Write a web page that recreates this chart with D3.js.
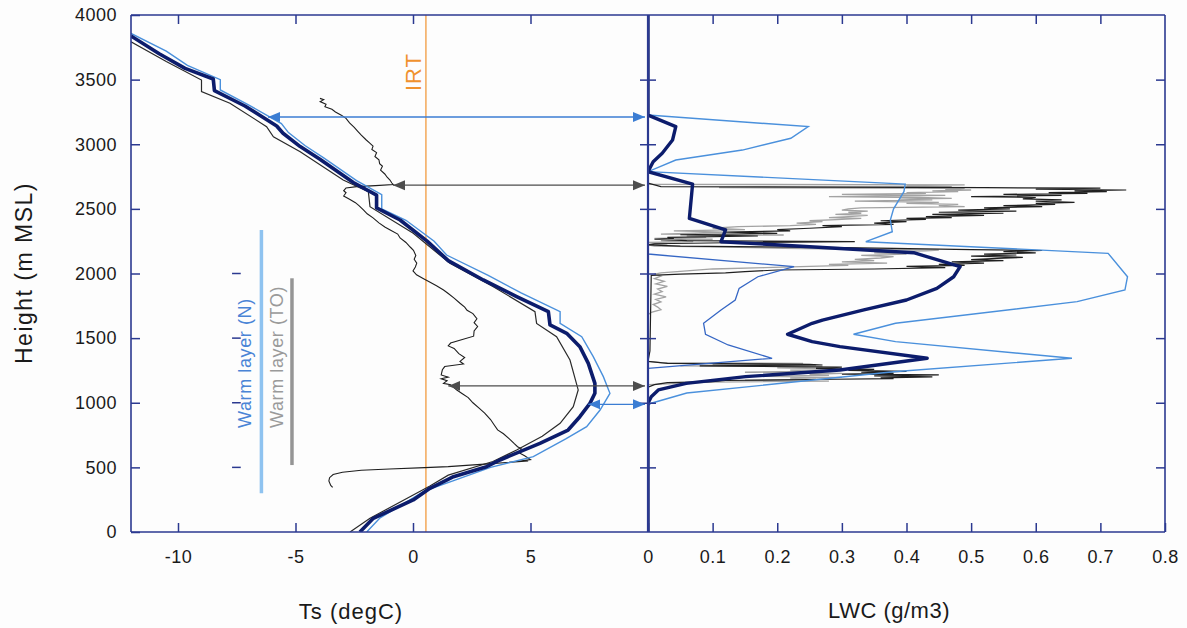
<!DOCTYPE html>
<html><head><meta charset="utf-8">
<script src="https://cdn.jsdelivr.net/npm/d3@7"></script>
<style>
body{margin:0;background:#fdfdfd}
svg{display:block}
text{font-family:"Liberation Sans",Arial,sans-serif}
</style>
</head><body><svg id="c" width="1187" height="628"></svg>
<script>
// ---------- DATA ----------
const heightTicks = [0,500,1000,1500,2000,2500,3000,3500,4000];
const innerHeightTicks = [500,1000,1500,2000,2500,3000,3500];
const tsTicks = [-10,-5,0,5];
const tsTickLabels = ["-10","-5","0","5"];
const lwcTicks = [0,0.1,0.2,0.3,0.4,0.5,0.6,0.7,0.8];
const lwcTickLabels = ["0","0.1","0.2","0.3","0.4","0.5","0.6","0.7","0.8"];
const warmDashHeights = [500,1000,1500,2000];

// Ts profiles [Ts degC, height m]
const tsModelNavy = [[-12,3838],[-10.8,3700],[-9.7,3587],[-8.5,3505],[-8.45,3415],[-7.15,3296],[-5.8,3141],[-5.53,3085],[-4.8,2982],[-3.96,2884],[-2.54,2704],[-1.55,2607],[-1.55,2507],[-0.55,2414],[0.6,2250],[1.5,2100],[2.99,1950],[4.41,1821],[5.76,1705],[5.83,1602],[6.54,1537],[7.1,1434],[7.46,1305],[7.74,1150],[7.74,1073],[7.53,995],[7.1,892],[6.6,789],[5.4,686],[3.7,557],[3.13,505],[1.72,428],[1.43,402],[0.72,338],[0.01,248],[-1.69,106],[-2.26,0]];
const tsModelLight = [[-12,3858],[-10.5,3720],[-9.6,3610],[-8.2,3500],[-8.2,3420],[-7.0,3305],[-5.6,3160],[-5.3,3090],[-4.6,2990],[-3.8,2895],[-2.4,2718],[-1.33,2610],[-1.33,2500],[-0.3,2412],[0.9,2250],[1.43,2143],[3.2,1985],[4.6,1850],[6.26,1705],[6.26,1614],[7.18,1511],[7.67,1357],[8.1,1202],[8.38,1073],[7.96,944],[7.39,815],[6.5,720],[5.12,583],[3.3,500],[1.7,395],[0.5,318],[-1.4,110],[-1.97,0]];
const tsModelBlack = [[-12,3793],[-10.5,3640],[-9,3497],[-9,3407],[-7.79,3317],[-6.23,3136],[-5.94,3058],[-4.8,2942],[-2.97,2723],[-1.9,2633],[-1.83,2517],[0.01,2311],[1.57,2079],[3.4,1900],[5.19,1705],[5.26,1614],[6.11,1511],[6.68,1331],[7.03,1099],[6.82,970],[6.26,841],[5.5,740],[4.41,634],[3.4,545],[1.5,440],[0.72,356],[-1.83,106],[-2.68,0]];
const tsSounding = [[-3.96,3355],[-3.8,3345],[-3.95,3330],[-3.7,3310],[-3.75,3290],[-3.45,3270],[-3.3,3250],[-3.05,3225],[-2.85,3200],[-2.7,3165],[-2.5,3130],[-2.35,3100],[-2.2,3070],[-2.0,3035],[-1.85,3010],[-1.7,2985],[-1.75,2960],[-1.55,2935],[-1.62,2905],[-1.45,2880],[-1.42,2850],[-1.3,2830],[-1.38,2800],[-1.2,2770],[-1.1,2745],[-0.98,2723],[-0.9,2700],[-0.84,2688],[-1.6,2680],[-2.4,2672],[-2.85,2662],[-2.95,2640],[-2.85,2625],[-2.95,2600],[-2.7,2575],[-2.45,2548],[-2.3,2525],[-2.1,2490],[-1.95,2462],[-1.7,2430],[-1.45,2392],[-1.2,2360],[-0.95,2335],[-0.65,2305],[-0.55,2275],[-0.3,2240],[-0.12,2205],[0.02,2180],[0.12,2140],[0.05,2110],[0.16,2080],[0.1,2050],[0.0,2020],[0.15,1990],[0.45,1960],[0.65,1940],[1.0,1905],[1.3,1872],[1.5,1845],[1.75,1810],[2.0,1770],[2.2,1740],[2.3,1715],[2.55,1690],[2.72,1650],[2.6,1620],[2.75,1590],[2.6,1555],[2.58,1515],[2.1,1490],[1.6,1462],[1.5,1440],[1.75,1420],[1.95,1380],[2.2,1350],[2.0,1320],[2.15,1300],[1.35,1280],[1.25,1255],[1.2,1215],[1.5,1198],[1.2,1185],[1.45,1170],[1.3,1150],[1.6,1140],[1.85,1100],[2.1,1070],[2.35,1040],[2.55,1000],[2.8,960],[3.05,920],[3.3,870],[3.45,830],[3.6,790],[3.85,760],[4.1,720],[4.3,685],[4.45,660],[4.6,645],[4.55,610],[4.75,590],[5.0,560],[4.4,545],[4.9,550],[3.2,527],[1.5,506],[0.5,498],[-1.0,488],[-2.2,478],[-3.0,462],[-3.4,445],[-3.55,420],[-3.58,395],[-3.5,360],[-3.42,345]];
const irtTs = 0.55;

// LWC profiles [LWC g/m3, height m]
const lwcModelNavy = [[0,4000],[0,3226],[0.043,3136],[0.038,3033],[0.022,2930],[0.008,2865],[0,2788],[0.069,2692],[0.064,2427],[0.12,2337],[0.113,2246],[0.411,2161],[0.483,2053],[0.473,1975],[0.447,1885],[0.40,1795],[0.334,1718],[0.27,1640],[0.254,1615],[0.216,1530],[0.254,1473],[0.297,1434],[0.432,1344],[0.297,1253],[0.151,1202],[0.059,1150],[0.016,1099],[0.005,1047],[0,996],[0,0]];
const lwcModelLight = [[0,3226],[0.248,3136],[0.221,3046],[0.146,2955],[0.043,2878],[0,2788],[0.398,2692],[0.396,2633],[0.38,2500],[0.375,2414],[0.378,2323],[0.337,2246],[0.712,2156],[0.742,1975],[0.738,1872],[0.664,1782],[0.383,1615],[0.318,1530],[0.383,1473],[0.656,1344],[0.38,1240],[0.06,1075],[0.005,996],[0,980]];
const lwcModelMid = [[0,2400],[0,2151],[0.226,2053],[0.17,1975],[0.141,1885],[0.135,1795],[0.113,1718],[0.086,1615],[0.089,1530],[0.124,1447],[0.192,1344],[0,1266],[0,1000]];
const lwcProbeBlack = [[0,2700],[0.02,2672],[0.52,2664],[0.70,2660],[0.60,2652],[0.74,2646],[0.66,2640],[0.71,2633],[0.62,2626],[0.68,2620],[0.55,2612],[0.64,2604],[0.50,2595],[0.60,2588],[0.58,2578],[0.64,2569],[0.60,2560],[0.66,2550],[0.60,2543],[0.63,2535],[0.55,2525],[0.61,2517],[0.52,2508],[0.56,2500],[0.48,2491],[0.57,2483],[0.45,2474],[0.55,2466],[0.44,2457],[0.52,2450],[0.43,2440],[0.47,2433],[0.40,2427],[0.43,2418],[0.36,2408],[0.40,2401],[0.35,2390],[0.38,2380],[0.27,2370],[0.30,2362],[0.25,2350],[0.20,2340],[0.22,2330],[0.12,2320],[0.20,2311],[0.05,2300],[0.17,2290],[0.03,2280],[0.04,2272],[0.01,2265],[0.06,2255],[0.32,2246],[0.15,2240],[0.01,2230],[0,2222],[0.05,2212],[0.30,2200],[0.38,2195],[0.50,2185],[0.61,2178],[0.55,2170],[0.60,2160],[0.52,2150],[0.57,2143],[0.50,2135],[0.58,2125],[0.54,2117],[0.50,2108],[0.55,2100],[0.47,2090],[0.52,2080],[0.45,2070],[0.49,2063],[0.40,2055],[0.46,2045],[0.35,2035],[0.20,2027],[0.15,2015],[0.12,2005],[0.05,1995],[0.005,1985],[0.003,1400],[0,1320],[0.03,1305],[0.25,1298],[0.27,1292],[0.08,1285],[0.30,1275],[0.26,1266],[0.35,1258],[0.31,1250],[0.40,1243],[0.33,1236],[0.38,1228],[0.30,1222],[0.45,1215],[0.35,1208],[0.44,1200],[0.36,1193],[0.38,1187],[0.25,1180],[0.12,1172],[0.10,1163],[0.03,1155],[0.01,1140],[0,1120],[0,0]];
const lwcProbeGray = [[0,3360],[0,2690],[0.49,2686],[0.40,2680],[0.47,2672],[0.11,2664],[0.49,2659],[0.46,2652],[0.50,2646],[0.44,2640],[0.48,2633],[0.40,2626],[0.43,2620],[0.30,2612],[0.46,2604],[0.28,2595],[0.42,2588],[0.47,2582],[0.39,2575],[0.44,2569],[0.32,2560],[0.45,2550],[0.40,2543],[0.48,2535],[0.45,2525],[0.49,2517],[0.33,2508],[0.31,2500],[0.30,2491],[0.34,2483],[0.31,2474],[0.33,2466],[0.29,2457],[0.34,2450],[0.31,2440],[0.28,2433],[0.33,2427],[0.30,2418],[0.25,2408],[0.27,2401],[0.23,2390],[0.26,2380],[0.22,2370],[0.14,2362],[0.10,2350],[0.15,2340],[0.04,2330],[0.12,2320],[0.06,2311],[0.02,2305],[0.21,2298],[0.06,2290],[0.09,2280],[0.01,2272],[0.10,2265],[0.02,2255],[0.07,2246],[0,2240],[0.03,2230],[0,2222],[0.01,2212],[0.12,2205],[0.21,2195],[0.30,2188],[0.45,2182],[0.43,2175],[0.38,2169],[0.35,2160],[0.40,2150],[0.33,2140],[0.38,2130],[0.36,2120],[0.32,2110],[0.35,2100],[0.30,2090],[0.37,2080],[0.28,2070],[0.31,2063],[0.25,2055],[0.18,2045],[0.10,2035],[0.06,2020],[0.02,2005],[0.01,1995],[0.02,1980],[0.01,1960],[0.025,1940],[0.012,1920],[0.03,1900],[0.015,1880],[0.022,1860],[0.01,1840],[0.028,1820],[0.012,1800],[0.02,1780],[0.008,1760],[0.015,1740],[0.02,1720],[0.005,1700],[0,1680],[0,1320],[0.02,1310],[0.24,1305],[0.10,1298],[0.26,1292],[0.05,1285],[0.27,1279],[0.20,1270],[0.29,1262],[0.22,1253],[0.27,1245],[0.15,1236],[0.30,1228],[0.25,1220],[0.28,1212],[0.18,1205],[0.30,1197],[0.22,1190],[0.26,1181],[0.15,1175],[0.28,1168],[0.10,1160],[0.05,1150],[0,1140]];

// arrows [height, Ts at left tip]
const arrowsBlue = [[3211,-6.17],[988,7.46]];
const arrowsGray = [[2683,-0.85],[1130,1.5]];
// warm layers [bottom, top] heights, and Ts position of bar
const warmLayerN = [300,2337];
const warmLayerTO = [518,1963];
const warmBarTs = [-6.45,-5.15];

// ---------- SCALES ----------
const svg = d3.select("#c");
const yS = d3.scaleLinear().domain([0,4000]).range([532,15]);
const xT = d3.scaleLinear().domain([-12,10]).range([131,648]);
const xL = d3.scaleLinear().domain([0,0.8]).range([648,1165]);
const AX = "#2b3990";

svg.append("rect").attr("width",1187).attr("height",628).attr("fill","#fdfdfd");

const defs = svg.append("defs");
defs.append("clipPath").attr("id","clipL").append("rect").attr("x",xT(-12)).attr("y",yS(4000)).attr("width",xT(10)-xT(-12)).attr("height",yS(0)-yS(4000));
defs.append("clipPath").attr("id","clipR").append("rect").attr("x",xL(0)).attr("y",yS(4000)).attr("width",xL(0.8)-xL(0)).attr("height",yS(0)-yS(4000));
function marker(id,color){
  defs.append("marker").attr("id",id).attr("viewBox","-12 -6 13 12").attr("refX",0).attr("refY",0)
    .attr("markerWidth",13).attr("markerHeight",12).attr("markerUnits","userSpaceOnUse")
    .attr("orient","auto-start-reverse")
    .append("path").attr("d","M0,0 L-12,-5 L-12,5 Z").attr("fill",color);
}
marker("mBlue","#3b7dd3");
marker("mGray","#4d4d4d");

const lineT = d3.line().x(d=>xT(d[0])).y(d=>yS(d[1]));
const lineL = d3.line().x(d=>xL(d[0])).y(d=>yS(d[1]));

// ---------- LEFT PANEL ----------
const gl = svg.append("g").attr("clip-path","url(#clipL)");
gl.append("line").attr("x1",xT(irtTs)).attr("x2",xT(irtTs)).attr("y1",yS(4000)).attr("y2",yS(0))
  .attr("stroke","#f0922e").attr("stroke-width",1.2);
gl.append("path").datum(tsSounding).attr("d",lineT).attr("fill","none").attr("stroke","#1e1e1e").attr("stroke-width",1.1);
gl.append("path").datum(tsModelBlack).attr("d",lineT).attr("fill","none").attr("stroke","#2a2a2a").attr("stroke-width",1.2);
gl.append("path").datum(tsModelLight).attr("d",lineT).attr("fill","none").attr("stroke","#4a90dc").attr("stroke-width",1.4);
gl.append("path").datum(tsModelNavy).attr("d",lineT).attr("fill","none").attr("stroke","#0c1c6c").attr("stroke-width",3.6).attr("stroke-linejoin","round");

// warm layer bars
svg.append("line").attr("x1",xT(warmBarTs[0])).attr("x2",xT(warmBarTs[0]))
  .attr("y1",yS(warmLayerN[0])).attr("y2",yS(warmLayerN[1])).attr("stroke","#8fc3f0").attr("stroke-width",3.5);
svg.append("line").attr("x1",xT(warmBarTs[1])).attr("x2",xT(warmBarTs[1]))
  .attr("y1",yS(warmLayerTO[0])).attr("y2",yS(warmLayerTO[1])).attr("stroke","#959595").attr("stroke-width",3.5);
svg.selectAll(".wdash").data(warmDashHeights).enter().append("line")
  .attr("x1",xT(-7.7)).attr("x2",xT(-7.33)).attr("y1",d=>yS(d)).attr("y2",d=>yS(d))
  .attr("stroke",AX).attr("stroke-width",1.5);

svg.append("text").attr("transform",`translate(${xT(warmBarTs[0])-10},428) rotate(-90)`)
  .attr("font-size",18).attr("letter-spacing",0.6).attr("fill","#4a84d6").text("Warm layer (N)");
svg.append("text").attr("transform",`translate(${xT(warmBarTs[1])-9},428) rotate(-90)`)
  .attr("font-size",18).attr("letter-spacing",0.6).attr("fill","#9a9a9a").text("Warm layer (TO)");
svg.append("text").attr("transform",`translate(${xT(irtTs)-5},91) rotate(-90)`)
  .attr("font-size",22).attr("letter-spacing",1).attr("fill","#f0922e").text("IRT");

// ---------- RIGHT PANEL ----------
const gr = svg.append("g").attr("clip-path","url(#clipR)");
gr.append("path").datum(lwcProbeGray).attr("d",lineL).attr("fill","none").attr("stroke","#a3a3a3").attr("stroke-width",1.3);
gr.append("path").datum(lwcProbeBlack).attr("d",lineL).attr("fill","none").attr("stroke","#202020").attr("stroke-width",1.2);
gr.append("path").datum(lwcModelMid).attr("d",lineL).attr("fill","none").attr("stroke","#3566c4").attr("stroke-width",1.3);
gr.append("path").datum(lwcModelLight).attr("d",lineL).attr("fill","none").attr("stroke","#4a90dc").attr("stroke-width",1.4);
gr.append("path").datum(lwcModelNavy).attr("d",lineL).attr("fill","none").attr("stroke","#0c1c6c").attr("stroke-width",3.4).attr("stroke-linejoin","round");

// ---------- AXES ----------
function styleAxis(g){
  g.select(".domain").remove();
  g.selectAll(".tick line").attr("stroke",AX).attr("stroke-width",1.5);
  g.selectAll("text").attr("fill","#1a1a1a").attr("font-size",18).attr("letter-spacing",0.5)
    .attr("font-family",'"Liberation Sans",Arial,sans-serif');
}
// frame lines
const frame = svg.append("g").attr("stroke",AX).attr("stroke-width",1.6).attr("fill","none");
frame.append("line").attr("x1",xT(-12)).attr("x2",xL(0.8)).attr("y1",yS(4000)).attr("y2",yS(4000));
frame.append("line").attr("x1",xT(-12)).attr("x2",xL(0.8)).attr("y1",yS(0)).attr("y2",yS(0));
frame.append("line").attr("x1",xT(-12)).attr("x2",xT(-12)).attr("y1",yS(4000)).attr("y2",yS(0));
frame.append("line").attr("x1",xL(0.8)).attr("x2",xL(0.8)).attr("y1",yS(4000)).attr("y2",yS(0));
frame.append("line").attr("x1",xL(0)).attr("x2",xL(0)).attr("y1",yS(4000)).attr("y2",yS(0)).attr("stroke-width",2.2);

// left y axis
svg.append("g").attr("transform",`translate(${xT(-12)},0)`)
  .call(d3.axisLeft(yS).tickValues(heightTicks).tickSize(-9).tickPadding(14).tickFormat(d3.format("d")))
  .call(styleAxis);
// right frame ticks
svg.append("g").attr("transform",`translate(${xL(0.8)},0)`)
  .call(d3.axisRight(yS).tickValues(innerHeightTicks).tickSize(-9).tickFormat(""))
  .call(styleAxis);
// middle crossing ticks
svg.append("g").attr("transform",`translate(${xL(0)},0)`)
  .call(d3.axisLeft(yS).tickValues(innerHeightTicks).tickSize(8).tickFormat("")).call(styleAxis);
svg.append("g").attr("transform",`translate(${xL(0)},0)`)
  .call(d3.axisRight(yS).tickValues(innerHeightTicks).tickSize(8).tickFormat("")).call(styleAxis);
// bottom axes
svg.append("g").attr("transform",`translate(0,${yS(0)})`)
  .call(d3.axisBottom(xT).tickValues(tsTicks).tickSize(-9).tickPadding(18).tickFormat((d,i)=>tsTickLabels[i]))
  .call(styleAxis);
svg.append("g").attr("transform",`translate(0,${yS(0)})`)
  .call(d3.axisBottom(xL).tickValues(lwcTicks).tickSize(-9).tickPadding(18).tickFormat((d,i)=>lwcTickLabels[i]))
  .call(styleAxis);
svg.selectAll(".tick").filter(d=>d===0).selectAll("line").filter(function(){return +d3.select(this).attr("y2")===-9;});
// top axes
svg.append("g").attr("transform",`translate(0,${yS(4000)})`)
  .call(d3.axisTop(xT).tickValues(tsTicks).tickSize(-9).tickFormat("")).call(styleAxis);
svg.append("g").attr("transform",`translate(0,${yS(4000)})`)
  .call(d3.axisTop(xL).tickValues(lwcTicks.slice(1,8)).tickSize(-9).tickFormat("")).call(styleAxis);

// ---------- ARROWS ----------
const tipR = xL(0)-3;
svg.selectAll(".ab").data(arrowsBlue).enter().append("line")
  .attr("x1",d=>xT(d[1])).attr("x2",tipR).attr("y1",d=>yS(d[0])).attr("y2",d=>yS(d[0]))
  .attr("stroke","#3b7dd3").attr("stroke-width",1.3)
  .attr("marker-start","url(#mBlue)").attr("marker-end","url(#mBlue)");
svg.selectAll(".ag").data(arrowsGray).enter().append("line")
  .attr("x1",d=>xT(d[1])).attr("x2",tipR).attr("y1",d=>yS(d[0])).attr("y2",d=>yS(d[0]))
  .attr("stroke","#4d4d4d").attr("stroke-width",1.3)
  .attr("marker-start","url(#mGray)").attr("marker-end","url(#mGray)");

// ---------- AXIS TITLES ----------
svg.append("text").attr("transform","translate(32,273) rotate(-90)").attr("text-anchor","middle")
  .attr("font-size",23).attr("letter-spacing",1.5).attr("fill","#1a1a1a").text("Height (m MSL)");
svg.append("text").attr("x",351).attr("y",619).attr("text-anchor","middle")
  .attr("font-size",22).attr("letter-spacing",1).attr("fill","#1a1a1a").text("Ts (degC)");
svg.append("text").attr("x",889).attr("y",618).attr("text-anchor","middle")
  .attr("font-size",22).attr("letter-spacing",0.5).attr("fill","#1a1a1a").text("LWC (g/m3)");
</script></body></html>
